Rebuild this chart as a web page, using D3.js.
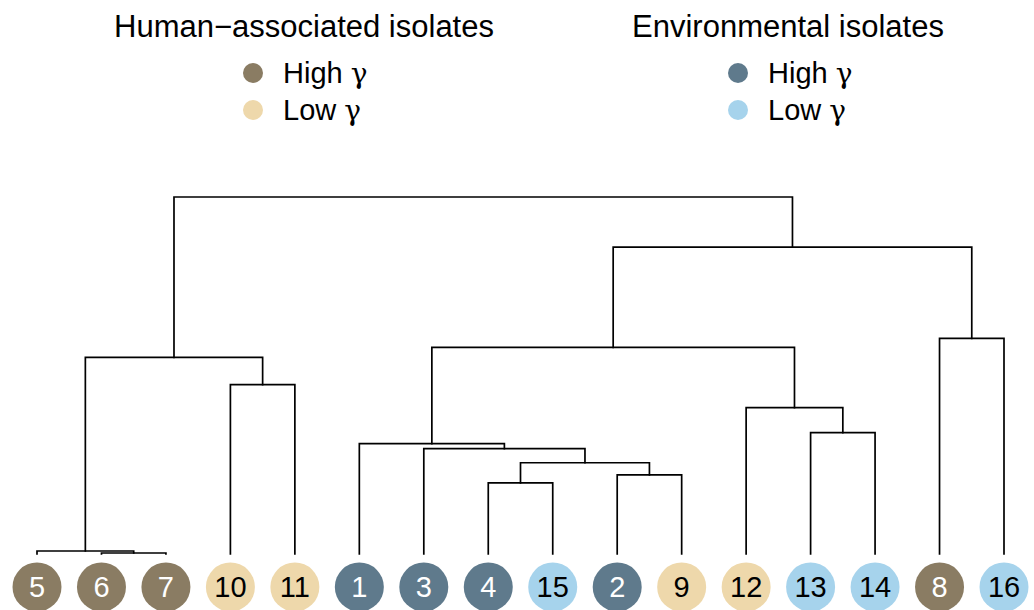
<!DOCTYPE html>
<html>
<head>
<meta charset="utf-8">
<script src="https://cdn.jsdelivr.net/npm/d3@7"></script>
<style>
  html, body { margin: 0; padding: 0; background: #fff; }
  svg { display: block; font-family: "Liberation Sans", Arial, Helvetica, sans-serif; }
</style>
</head>
<body>
<svg id="chart" width="1034" height="610"></svg>
<script>
// ---- Data ----
// Leaf order (isolate IDs) along the bottom
const leafOrder = [5, 6, 7, 10, 11, 1, 3, 4, 15, 2, 9, 12, 13, 14, 8, 16];
// Group of each isolate: HH = human high γ, HL = human low γ, EH = env high γ, EL = env low γ
const isolateIds   = [1, 2, 3, 4, 5, 6, 7, 8, 9, 10, 11, 12, 13, 14, 15, 16];
const isolateGroup = ["EH","EH","EH","EH","HH","HH","HH","HH","HL","HL","HL","HL","EL","EL","EL","EL"];
// hclust-style merge table: negative = isolate id, positive = earlier merge (1-based)
const mergeLeft   = [-6, -5, -10, 2, -4, -2, 5, -3, -1, -13, -12, 9, -8, 12, 4];
const mergeRight  = [-7,  1, -11, 3, -15, -9, 6, 7, 8, -14, 10, 11, -16, 13, 14];
const mergeHeight = [0.01, 0.03, 1.69, 1.96, 0.71, 0.79, 0.91, 1.05, 1.10, 1.21, 1.46, 2.06, 2.15, 3.06, 3.56];

// Legend
const legendTitles = ["Human\u2212associated isolates", "Environmental isolates"];
const legendGroups = [["HH", "HL"], ["EH", "EL"]];
const legendLabels = ["High ", "Low "];
const legendSymbol = "\u03b3";

const groupColor = { HH: "#8a7c63", HL: "#eed8ab", EH: "#5f7a8c", EL: "#a6d3ec" };
const groupText  = { HH: "#ffffff", HL: "#000000", EH: "#ffffff", EL: "#000000" };

// ---- Build hierarchy ----
function buildNode(ref) {
  if (ref < 0) return { id: -ref, height: 0 };
  const i = ref - 1;
  return { height: mergeHeight[i], children: [buildNode(mergeLeft[i]), buildNode(mergeRight[i])] };
}
const root = d3.hierarchy(buildNode(mergeHeight.length));

const svg = d3.select("#chart");
const x = d3.scalePoint().domain(leafOrder).range([37, 1004]);
const y = d3.scaleLinear().domain([0, d3.max(mergeHeight)]).range([554, 197]);

// positions
root.eachAfter(n => {
  if (!n.children) { n.px = x(n.data.id); }
  else { n.px = d3.mean(n.children, c => c.px); }
  n.py = y(n.data.height);
});

const g = svg.append("g").attr("fill", "none").attr("stroke", "#000").attr("stroke-width", 1.7)
  .attr("stroke-linecap", "square");
root.descendants().filter(n => n.children).forEach(n => {
  const [a, b] = n.children;
  g.append("path").attr("d",
    `M${a.px},${a.py}V${n.py}H${b.px}V${b.py}`);
});

// leaves
const groupOf = id => isolateGroup[isolateIds.indexOf(id)];
const leaves = svg.append("g").selectAll("g").data(leafOrder).join("g")
  .attr("transform", d => `translate(${x(d)},587)`);
leaves.append("circle").attr("r", 24.5).attr("fill", d => groupColor[groupOf(d)]);
leaves.append("text").attr("text-anchor", "middle").attr("dy", "0.36em")
  .attr("font-size", 29).attr("fill", d => groupText[groupOf(d)]).text(d => d);

// legend
const legendX = [304, 788];
const itemX = [253, 738];
legendTitles.forEach((t, i) => {
  const lg = svg.append("g");
  lg.append("text").attr("x", legendX[i]).attr("y", 37).attr("text-anchor", "middle")
    .attr("font-size", 31).attr("fill", "#000").text(t);
  legendGroups[i].forEach((gk, j) => {
    const cy = 73 + j * 37;
    lg.append("circle").attr("cx", itemX[i]).attr("cy", cy).attr("r", 10).attr("fill", groupColor[gk]);
    const tx = lg.append("text").attr("x", itemX[i] + 30).attr("y", cy + 10).attr("font-size", 29)
      .attr("fill", "#000");
    tx.append("tspan").text(legendLabels[j]);
    tx.append("tspan").attr("font-family", "'DejaVu Serif', 'Liberation Serif', serif")
      .attr("font-size", 28).text(legendSymbol);
  });
});
</script>
</body>
</html>
